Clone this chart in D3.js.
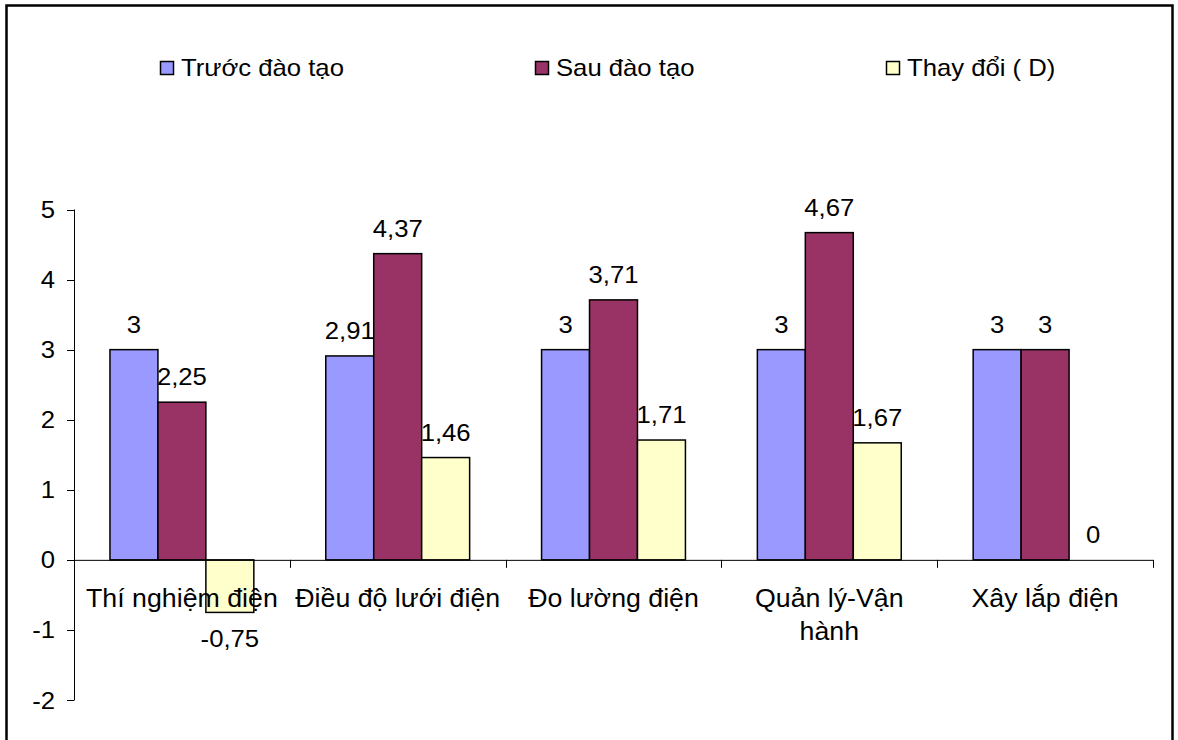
<!DOCTYPE html>
<html>
<head>
<meta charset="utf-8">
<script src="https://cdn.jsdelivr.net/npm/d3@7"></script>
<style>
  body { margin: 0; background: #fff; }
  svg { display: block; }
  text { font-family: "Liberation Sans", Arial, sans-serif; fill: #000; }
</style>
</head>
<body>
<div id="chart"></div>
<script>
// ---- data ----
const categories = ['Thí nghiệm điện', 'Điều độ lưới điện', 'Đo lường điện', 'Quản lý-Vận hành', 'Xây lắp điện'];
const seriesNames = ['Trước đào tạo', 'Sau đào tạo', 'Thay đổi ( D)'];
const truoc = [3, 2.91, 3, 3, 3];
const sau = [2.25, 4.37, 3.71, 4.67, 3];
const thayDoi = [-0.75, 1.46, 1.71, 1.67, 0];
const yTicks = [-2, -1, 0, 1, 2, 3, 4, 5];

const colors = ['#9999ff', '#993366', '#ffffcc'];
const series = [truoc, sau, thayDoi];

const W = 1178, H = 740;
const sx = 1.07;   // the picture's text looks a bit stretched sideways
const fs = 24;

const svg = d3.select('#chart')
    .append('svg')
    .attr('width', W)
    .attr('height', H);

svg.append('rect')
    .attr('x', 6.5).attr('y', 5.5)
    .attr('width', 1166).attr('height', 760)
    .attr('fill', 'none')
    .attr('stroke', '#000')
    .attr('stroke-width', 2.5);

const x0 = d3.scaleBand()
    .domain(categories)
    .range([74, 1153])
    .paddingInner(0)
    .paddingOuter(0);

const x1 = d3.scaleBand()
    .domain(d3.range(3))
    .range([0, x0.bandwidth()])
    .paddingOuter(0.75)
    .paddingInner(0);

const y = d3.scaleLinear()
    .domain([-2, 5])
    .range([700, 209.5]);

const fmt = v => String(v).replace('.', ',');

function label(g, x, yy, str, anchor, size) {
    return g.append('text')
        .attr('transform', `translate(${x},${yy}) scale(${sx},1)`)
        .attr('text-anchor', anchor || 'middle')
        .style('font-size', (size || fs) + 'px')
        .text(str);
}

// y axis
const yAxis = svg.append('g');
yAxis.append('line')
    .attr('x1', 74.5).attr('x2', 74.5)
    .attr('y1', y(5)).attr('y2', y(-2))
    .attr('stroke', '#000');
yTicks.forEach(t => {
    yAxis.append('line')
        .attr('x1', 67).attr('x2', 74.5)
        .attr('y1', Math.round(y(t)) + 0.5).attr('y2', Math.round(y(t)) + 0.5)
        .attr('stroke', '#000');
    label(yAxis, 55, y(t) + 8.5, String(t), 'end');
});

// bars
const groups = svg.selectAll('g.cat')
    .data(categories)
    .enter()
    .append('g')
    .attr('class', 'cat')
    .attr('transform', d => `translate(${x0(d)},0)`);

groups.each(function (cat, ci) {
    const g = d3.select(this);
    series.forEach((vals, si) => {
        const v = vals[ci];
        const bx = x1(si);
        if (v !== 0) {
            g.append('rect')
                .attr('x', bx)
                .attr('y', y(Math.max(0, v)))
                .attr('width', x1.bandwidth())
                .attr('height', Math.abs(y(v) - y(0)))
                .attr('fill', colors[si])
                .attr('stroke', '#000')
                .attr('stroke-width', 1.5);
        }
        const cx = bx + x1.bandwidth() / 2;
        const ly = v < 0 ? y(v) + 35 : y(v) - 17;
        label(g, cx, ly, fmt(v));
    });
});

// x axis
const xAxis = svg.append('g');
xAxis.append('line')
    .attr('x1', 74).attr('x2', 1153)
    .attr('y1', y(0) + 0.5).attr('y2', y(0) + 0.5)
    .attr('stroke', '#000');
categories.concat(['end']).forEach((c, i) => {
    const tx = Math.round(74 + i * x0.bandwidth()) + 0.5;
    xAxis.append('line')
        .attr('x1', tx).attr('x2', tx)
        .attr('y1', y(0)).attr('y2', y(0) + 8)
        .attr('stroke', '#000');
});

// category labels, wrapped to the band width
const catFs = 25;
categories.forEach(c => {
    const t = label(svg, x0(c) + x0.bandwidth() / 2, 607, '', 'middle', catFs);
    const words = c.split(' ');
    let line = [];
    let lines = [];
    const probe = label(svg, 0, -100, '', 'middle', catFs);
    words.forEach(w => {
        const test = line.concat([w]).join(' ');
        probe.text(test);
        if (probe.node().getComputedTextLength() * sx > x0.bandwidth() - 6 && line.length) {
            lines.push(line.join(' '));
            line = [w];
        } else {
            line.push(w);
        }
    });
    lines.push(line.join(' '));
    probe.remove();
    lines.forEach((l, i) => {
        t.append('tspan')
            .attr('x', 0)
            .attr('dy', i === 0 ? 0 : 33)
            .text(l);
    });
});

// legend
const legendX = [160, 535, 886];
seriesNames.forEach((name, i) => {
    svg.append('rect')
        .attr('x', legendX[i] + 0.5).attr('y', 61.5)
        .attr('width', 13).attr('height', 13)
        .attr('fill', colors[i])
        .attr('stroke', '#000')
        .attr('stroke-width', 1.5);
    label(svg, legendX[i] + 21, 76, name, 'start');
});
</script>
</body>
</html>
